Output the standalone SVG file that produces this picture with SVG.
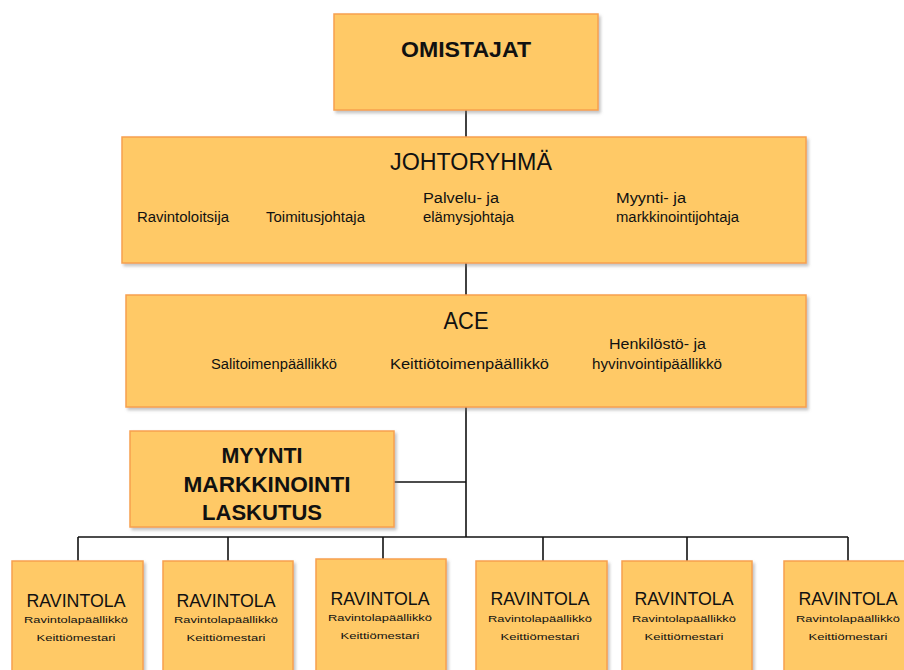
<svg xmlns="http://www.w3.org/2000/svg" width="904" height="670" viewBox="0 0 904 670">
  <style>
    .box { fill: #FFC966; stroke: #F7A04E; stroke-width: 1.5; filter: url(#shadow); }
    .conn { stroke: #111; stroke-width: 1.6; fill: none; }
    text { font-family: "Liberation Sans", Arial, sans-serif; fill: #111; }
    .title { font-size: 22px; font-weight: bold; text-anchor: middle; }
    .head { font-size: 23px; text-anchor: middle; }
    .sub { font-size: 14px; }
    .rav { font-size: 17.5px; text-anchor: middle; }
    .small { font-size: 9px; text-anchor: middle; }
  </style>
  <defs>
    <filter id="shadow" x="-5%" y="-5%" width="115%" height="120%">
      <feDropShadow dx="2" dy="2.5" stdDeviation="1.5" flood-color="#7a7a7a" flood-opacity="0.45"/>
    </filter>
  </defs>
  <rect width="904" height="670" fill="#fff"/>

  <!-- connectors -->
  <g id="connectors">
    <line class="conn" x1="466" y1="110" x2="466" y2="137"/>
    <line class="conn" x1="466" y1="263" x2="466" y2="295"/>
    <line class="conn" x1="466" y1="407" x2="466" y2="537"/>
    <line class="conn" x1="394" y1="482" x2="466" y2="482"/>
    <line class="conn" x1="78" y1="537" x2="848" y2="537"/>
    <line class="conn" x1="78" y1="537" x2="78" y2="561"/>
    <line class="conn" x1="228" y1="537" x2="228" y2="561"/>
    <line class="conn" x1="383" y1="537" x2="383" y2="559"/>
    <line class="conn" x1="543" y1="537" x2="543" y2="561"/>
    <line class="conn" x1="687" y1="537" x2="687" y2="561"/>
    <line class="conn" x1="848" y1="537" x2="848" y2="561"/>
  </g>

  <g id="omistajat">
    <rect class="box" x="334" y="14" width="264" height="96"/>
    <text class="title" x="466" y="57" textLength="130" lengthAdjust="spacingAndGlyphs">OMISTAJAT</text>
  </g>

  <g id="johtoryhma">
    <rect class="box" x="122" y="137" width="684" height="126"/>
    <text class="head" x="471" y="170" textLength="162" lengthAdjust="spacingAndGlyphs">JOHTORYHMÄ</text>
    <text class="sub" x="137" y="222" textLength="92" lengthAdjust="spacingAndGlyphs">Ravintoloitsija</text>
    <text class="sub" x="266" y="222" textLength="99" lengthAdjust="spacingAndGlyphs">Toimitusjohtaja</text>
    <text class="sub" x="423" y="203" textLength="76" lengthAdjust="spacingAndGlyphs">Palvelu- ja</text>
    <text class="sub" x="423" y="222" textLength="91" lengthAdjust="spacingAndGlyphs">elämysjohtaja</text>
    <text class="sub" x="616" y="203" textLength="70" lengthAdjust="spacingAndGlyphs">Myynti- ja</text>
    <text class="sub" x="616" y="222" textLength="123" lengthAdjust="spacingAndGlyphs">markkinointijohtaja</text>
  </g>

  <g id="ace">
    <rect class="box" x="126" y="295" width="680" height="112"/>
    <text class="head" x="466" y="329" textLength="45" lengthAdjust="spacingAndGlyphs">ACE</text>
    <text class="sub" x="211" y="369" textLength="126" lengthAdjust="spacingAndGlyphs">Salitoimenpäällikkö</text>
    <text class="sub" x="390" y="369" textLength="159" lengthAdjust="spacingAndGlyphs">Keittiötoimenpäällikkö</text>
    <text class="sub" x="609" y="349" textLength="97" lengthAdjust="spacingAndGlyphs">Henkilöstö- ja</text>
    <text class="sub" x="592" y="369" textLength="130" lengthAdjust="spacingAndGlyphs">hyvinvointipäällikkö</text>
  </g>

  <g id="myynti">
    <rect class="box" x="130" y="431" width="264" height="96"/>
    <text class="title" x="262" y="463" textLength="81" lengthAdjust="spacingAndGlyphs">MYYNTI</text>
    <text class="title" x="267" y="492" textLength="167" lengthAdjust="spacingAndGlyphs">MARKKINOINTI</text>
    <text class="title" x="262" y="520" textLength="120" lengthAdjust="spacingAndGlyphs">LASKUTUS</text>
  </g>

  <g id="ravintola-1">
    <rect class="box" x="12" y="561" width="131" height="120"/>
    <text class="rav" x="76" y="607" textLength="99" lengthAdjust="spacingAndGlyphs">RAVINTOLA</text>
    <text class="small" x="76" y="623" textLength="104" lengthAdjust="spacingAndGlyphs">Ravintolapäällikkö</text>
    <text class="small" x="76" y="641" textLength="79" lengthAdjust="spacingAndGlyphs">Keittiömestari</text>
  </g>
  <g id="ravintola-2">
    <rect class="box" x="163" y="561" width="130" height="120"/>
    <text class="rav" x="226" y="607" textLength="99" lengthAdjust="spacingAndGlyphs">RAVINTOLA</text>
    <text class="small" x="226" y="623" textLength="104" lengthAdjust="spacingAndGlyphs">Ravintolapäällikkö</text>
    <text class="small" x="226" y="641" textLength="79" lengthAdjust="spacingAndGlyphs">Keittiömestari</text>
  </g>
  <g id="ravintola-3">
    <rect class="box" x="316" y="559" width="130" height="120"/>
    <text class="rav" x="380" y="605" textLength="99" lengthAdjust="spacingAndGlyphs">RAVINTOLA</text>
    <text class="small" x="380" y="621" textLength="104" lengthAdjust="spacingAndGlyphs">Ravintolapäällikkö</text>
    <text class="small" x="380" y="639" textLength="79" lengthAdjust="spacingAndGlyphs">Keittiömestari</text>
  </g>
  <g id="ravintola-4">
    <rect class="box" x="476" y="561" width="131" height="120"/>
    <text class="rav" x="540" y="605" textLength="99" lengthAdjust="spacingAndGlyphs">RAVINTOLA</text>
    <text class="small" x="540" y="622" textLength="104" lengthAdjust="spacingAndGlyphs">Ravintolapäällikkö</text>
    <text class="small" x="540" y="640" textLength="79" lengthAdjust="spacingAndGlyphs">Keittiömestari</text>
  </g>
  <g id="ravintola-5">
    <rect class="box" x="622" y="561" width="130" height="120"/>
    <text class="rav" x="684" y="605" textLength="99" lengthAdjust="spacingAndGlyphs">RAVINTOLA</text>
    <text class="small" x="684" y="622" textLength="104" lengthAdjust="spacingAndGlyphs">Ravintolapäällikkö</text>
    <text class="small" x="684" y="640" textLength="79" lengthAdjust="spacingAndGlyphs">Keittiömestari</text>
  </g>
  <g id="ravintola-6">
    <rect class="box" x="784" y="561" width="130" height="120"/>
    <text class="rav" x="848" y="605" textLength="99" lengthAdjust="spacingAndGlyphs">RAVINTOLA</text>
    <text class="small" x="848" y="622" textLength="104" lengthAdjust="spacingAndGlyphs">Ravintolapäällikkö</text>
    <text class="small" x="848" y="640" textLength="79" lengthAdjust="spacingAndGlyphs">Keittiömestari</text>
  </g>
</svg>
